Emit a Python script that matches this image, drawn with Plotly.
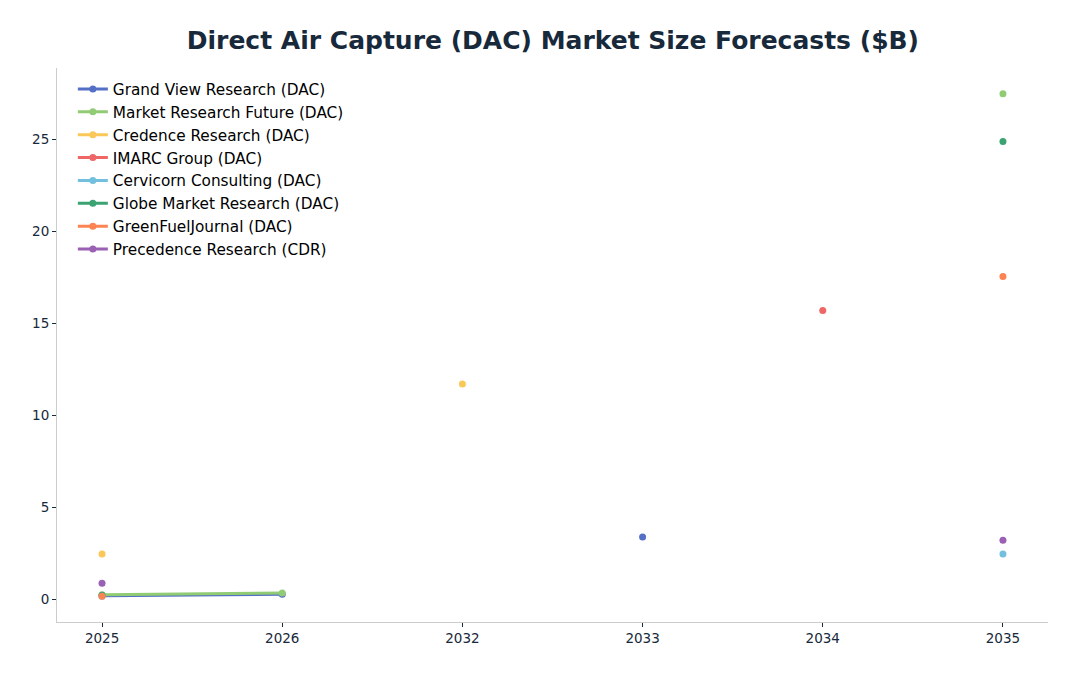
import plotly.graph_objects as go

years = ["2025", "2026", "2032", "2033", "2034", "2035"]

grand_view = [0.18, 0.26, None, 3.37, None, None]
market_research_future = [0.23, 0.33, None, None, None, 27.5]
credence = [2.45, None, 11.7, None, None, None]
imarc = [None, None, None, None, 15.7, None]
cervicorn = [0.15, None, None, None, None, 2.45]
globe_market = [0.2, None, None, None, None, 24.9]
green_fuel = [0.15, None, None, None, None, 17.55]
precedence = [0.86, None, None, None, None, 3.2]

series = [
    ("Grand View Research (DAC)", grand_view, "#5470c6"),
    ("Market Research Future (DAC)", market_research_future, "#91cc75"),
    ("Credence Research (DAC)", credence, "#fac858"),
    ("IMARC Group (DAC)", imarc, "#ee6666"),
    ("Cervicorn Consulting (DAC)", cervicorn, "#73c0de"),
    ("Globe Market Research (DAC)", globe_market, "#3ba272"),
    ("GreenFuelJournal (DAC)", green_fuel, "#fc8452"),
    ("Precedence Research (CDR)", precedence, "#9a60b4"),
]

fig = go.Figure()
for name, values, color in series:
    fig.add_trace(
        go.Scatter(
            x=years,
            y=values,
            name=name,
            mode="lines+markers",
            line=dict(color=color, width=3),
            marker=dict(color=color, size=7),
            connectgaps=False,
        )
    )

axis_style = dict(
    showgrid=False,
    zeroline=False,
    showline=True,
    linecolor="#cccccc",
    linewidth=1,
    ticks="outside",
    ticklen=4,
    tickcolor="#17293a",
    tickfont=dict(size=13.5, color="#17293a"),
)

# the page body adds 8px around the figure
fig.update_layout(
    width=1079,
    height=676,
    plot_bgcolor="white",
    paper_bgcolor="white",
    font=dict(family="DejaVu Sans", color="#17293a"),
    margin=dict(l=49, r=39, t=60, b=62),
    title=dict(
        text="<b>Direct Air Capture (DAC) Market Size Forecasts ($B)</b>",
        x=0.505,
        xanchor="center",
        y=0.952,
        yanchor="middle",
        font=dict(size=25, color="#17293a"),
    ),
    legend=dict(
        x=0.016,
        y=0.992,
        xanchor="left",
        yanchor="top",
        font=dict(size=15.3, color="#000000"),
        bgcolor="rgba(255,255,255,0)",
        tracegroupgap=0,
    ),
    xaxis=dict(type="category", range=[-0.25, 5.25], **axis_style),
    yaxis=dict(range=[-1.25, 28.9], tickvals=[0, 5, 10, 15, 20, 25], **axis_style),
)

fig.write_html("out.html")
